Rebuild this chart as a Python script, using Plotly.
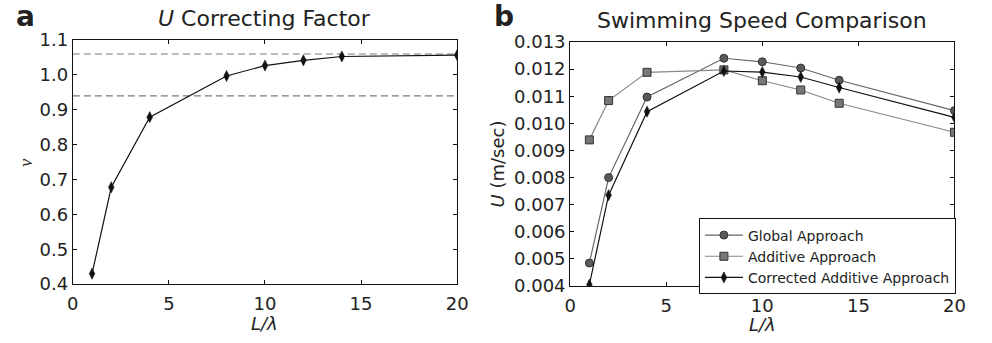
import plotly.graph_objects as go

# ---- data ----
ratio = [1, 2, 4, 8, 10, 12, 14, 20]
correcting_factor = [0.430, 0.678, 0.879, 0.997, 1.027, 1.042, 1.053, 1.057]
band_lines = [1.06, 0.94]

global_speed = [0.00485, 0.00800, 0.01097, 0.01240, 0.01227, 0.01204, 0.01159, 0.01047]
additive_speed = [0.00939, 0.01084, 0.01188, 0.01197, 0.01157, 0.01123, 0.01074, 0.00967]
corrected_speed = [0.00405, 0.00735, 0.01043, 0.01193, 0.01189, 0.01171, 0.01132, 0.01022]

W, H = 992, 343
FONT = "DejaVu Sans"
TXT = "#222222"

def px_x(p):
    return p / W

def px_y(p):
    return 1 - p / H

fig = go.Figure()

# panel a
fig.add_trace(go.Scatter(
    x=ratio, y=correcting_factor, mode="lines+markers",
    line=dict(color="#111111", width=1.2),
    marker=dict(symbol="diamond-tall", size=8, color="#111111",
                line=dict(color="#111111", width=0.5)),
    showlegend=False, xaxis="x", yaxis="y"))

for v in band_lines:
    fig.add_shape(type="line", xref="x", yref="y", x0=0, x1=20, y0=v, y1=v,
                  line=dict(color="#7a7a7a", width=1.1, dash="7px,4px"), layer="below")

# panel b
fig.add_trace(go.Scatter(
    x=ratio, y=global_speed, mode="lines+markers", name="Global Approach",
    line=dict(color="#666666", width=1.2),
    marker=dict(symbol="circle", size=8, color="#5a5a5a",
                line=dict(color="#333333", width=1)),
    xaxis="x2", yaxis="y2"))
fig.add_trace(go.Scatter(
    x=ratio, y=additive_speed, mode="lines+markers", name="Additive Approach",
    line=dict(color="#888888", width=1.2),
    marker=dict(symbol="square", size=8, color="#777777",
                line=dict(color="#333333", width=1)),
    xaxis="x2", yaxis="y2"))
fig.add_trace(go.Scatter(
    x=ratio, y=corrected_speed, mode="lines+markers", name="Corrected Additive Approach",
    line=dict(color="#111111", width=1.2),
    marker=dict(symbol="diamond-tall", size=8, color="#111111",
                line=dict(color="#111111", width=0.5)),
    xaxis="x2", yaxis="y2"))

axis_common = dict(showline=True, linecolor="#111111", linewidth=1, mirror="ticks",
                   ticks="inside", ticklen=4, tickwidth=1, tickcolor="#111111",
                   showgrid=False, zeroline=False,
                   tickfont=dict(family=FONT, size=18, color=TXT))

fig.update_layout(
    width=W, height=H,
    margin=dict(l=0, r=0, t=0, b=0),
    paper_bgcolor="white", plot_bgcolor="white",
    xaxis=dict(domain=[px_x(68), px_x(459)], range=[0, 20], dtick=5, anchor="y",
               ticklabelstandoff=3, **axis_common),
    yaxis=dict(domain=[px_y(291), px_y(31)], range=[0.4, 1.1], dtick=0.1, tickformat=".1f",
               anchor="x", **axis_common),
    xaxis2=dict(domain=[px_x(574), px_x(965)], range=[0, 20], dtick=5, anchor="y2",
                ticklabelstandoff=3, **axis_common),
    yaxis2=dict(domain=[px_y(293), px_y(33)], range=[0.004, 0.013], dtick=0.001, tickformat=".3f",
                anchor="x2", **axis_common),
    legend=dict(x=px_x(705), y=px_y(221), xanchor="left", yanchor="top",
                bgcolor="white", bordercolor="#111111", borderwidth=1, itemwidth=38,
                font=dict(family=FONT, size=14, color=TXT)),
    showlegend=True,
)

ann = [
    dict(text="<i>U</i> Correcting Factor", x=px_x(263.5), y=px_y(31), xanchor="center", yanchor="bottom",
         yshift=7, font=dict(family=FONT, size=22, color=TXT)),
    dict(text="Swimming Speed Comparison", x=px_x(769.5), y=px_y(33), xanchor="center", yanchor="bottom",
         yshift=7, font=dict(family=FONT, size=22, color=TXT)),
    dict(text="<i>L/λ</i>", x=px_x(263.5), y=px_y(333), xanchor="center", yanchor="middle",
         font=dict(family=FONT, size=18, color=TXT)),
    dict(text="<i>L/λ</i>", x=px_x(769.5), y=px_y(334), xanchor="center", yanchor="middle",
         font=dict(family=FONT, size=18, color=TXT)),
    dict(text="<i>v</i>", x=px_x(20), y=px_y(162), xanchor="center", yanchor="middle", textangle=-90,
         font=dict(family="Liberation Serif", size=18, color=TXT)),
    dict(text="<i>U</i> (m/sec)", x=px_x(500), y=px_y(163), xanchor="center", yanchor="middle", textangle=-90,
         font=dict(family=FONT, size=18, color=TXT)),
    dict(text="<b>a</b>", x=px_x(8), y=px_y(26), xanchor="left", yanchor="bottom",
         font=dict(family=FONT, size=28, color=TXT)),
    dict(text="<b>b</b>", x=px_x(494), y=px_y(26), xanchor="left", yanchor="bottom",
         font=dict(family=FONT, size=28, color=TXT)),
]
for a in ann:
    a.update(xref="paper", yref="paper", showarrow=False)
fig.update_layout(annotations=ann)

fig.write_html("out.html")
